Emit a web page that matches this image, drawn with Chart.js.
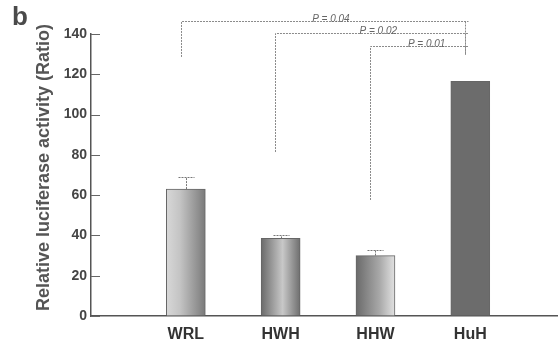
<!DOCTYPE html>
<html>
<head>
<meta charset="utf-8">
<script src="https://cdn.jsdelivr.net/npm/chart.js@4/dist/chart.umd.min.js"></script>
<style>
html,body{margin:0;padding:0;background:#fff;}
canvas{display:block;}
</style>
</head>
<body>
<canvas id="c" width="558" height="343"></canvas>
<script>
const categories = ['WRL', 'HWH', 'HHW', 'HuH'];
const values = [63, 38.5, 30, 116.5];
const errors = [6, 1.5, 3, 0];
const yTicks = [0, 20, 40, 60, 80, 100, 120, 140];
// brackets: left category index, right category index, bar level, left end value, right end value, label
const bracketLeft = [1, 2, 3];
const bracketRight = [4, 4, 4];
const bracketLevel = [146.5, 140.5, 134];
const bracketLeftEnd = [128.6, 81.4, 57.6];
const bracketRightEnd = [129.6, 129.6, 129.6];
const bracketLabels = ['P = 0.04', 'P = 0.02', 'P = 0.01'];
const bracketLabelPos = [2.53, 3.03, 3.54];

const barStops = [
  [[0, '#d8d8d8'], [0.35, '#c4c4c4'], [1, '#7a7a7a']],
  [[0, '#6a6a6a'], [0.55, '#c8c8c8'], [1, '#6e6e6e']],
  [[0, '#6a6a6a'], [0.6, '#a8a8a8'], [1, '#e2e2e2']],
  [[0, '#6c6c6c'], [1, '#6c6c6c']]
];

const FONT = "'Liberation Sans', Arial, sans-serif";

const overlay = {
  id: 'overlay',
  afterDraw(chart) {
    const ctx = chart.ctx;
    const xs = chart.scales.x, ys = chart.scales.y;
    const area = chart.chartArea;
    ctx.save();
    // y tick marks pointing inward
    ctx.strokeStyle = '#666';
    ctx.lineWidth = 1;
    yTicks.forEach(v => {
      const py = Math.round(ys.getPixelForValue(v)) + 0.5;
      ctx.beginPath();
      ctx.moveTo(area.left, py);
      ctx.lineTo(area.left + 9, py);
      ctx.stroke();
    });
    // error bars
    ctx.strokeStyle = '#777';
    ctx.lineWidth = 1;
    ctx.setLineDash([2, 1]);
    values.forEach((v, i) => {
      if (!errors[i]) return;
      const px = Math.round(xs.getPixelForValue(i + 1)) + 0.5;
      const y0 = ys.getPixelForValue(v);
      const y1 = Math.round(ys.getPixelForValue(v + errors[i])) + 0.5;
      ctx.beginPath();
      ctx.moveTo(px, y0);
      ctx.lineTo(px, y1);
      ctx.moveTo(px - 8, y1);
      ctx.lineTo(px + 8, y1);
      ctx.stroke();
    });
    // brackets
    ctx.strokeStyle = '#8a8a8a';
    bracketLeft.forEach((l, i) => {
      const xl = Math.round(xs.getPixelForValue(l - 0.055)) + 0.5;
      const xr = Math.round(xs.getPixelForValue(bracketRight[i] - 0.055)) + 0.5;
      const yl = Math.round(ys.getPixelForValue(bracketLevel[i])) + 0.5;
      ctx.beginPath();
      ctx.moveTo(xl, ys.getPixelForValue(bracketLeftEnd[i]));
      ctx.lineTo(xl, yl);
      ctx.lineTo(xr + 3, yl);
      ctx.moveTo(xr, yl);
      ctx.lineTo(xr, ys.getPixelForValue(bracketRightEnd[i]));
      ctx.stroke();
    });
    ctx.setLineDash([]);
    ctx.fillStyle = '#666';
    ctx.font = "italic 10px " + FONT;
    ctx.textAlign = 'center';
    ctx.textBaseline = 'alphabetic';
    bracketLabels.forEach((t, i) => {
      ctx.fillText(t, xs.getPixelForValue(bracketLabelPos[i]), ys.getPixelForValue(bracketLevel[i]) + 1);
    });
    // panel letter
    ctx.fillStyle = '#4a4a4a';
    ctx.font = "bold 26px " + FONT;
    ctx.textAlign = 'left';
    ctx.textBaseline = 'alphabetic';
    ctx.fillText('b', 12, 25);
    ctx.restore();
  }
};

function barFill(context) {
  const chart = context.chart;
  const i = context.dataIndex;
  const xs = chart.scales.x;
  if (!xs || !chart.chartArea) return '#888';
  const cx = xs.getPixelForValue(i + 1);
  const g = chart.ctx.createLinearGradient(cx - 19.5, 0, cx + 19.5, 0);
  barStops[i].forEach(s => g.addColorStop(s[0], s[1]));
  return g;
}

new Chart(document.getElementById('c'), {
  type: 'bar',
  data: {
    datasets: [{
      data: values.map((v, i) => ({ x: i + 1, y: v })),
      backgroundColor: barFill,
      borderColor: '#666',
      borderWidth: 1,
      barThickness: 39
    }]
  },
  options: {
    responsive: false,
    devicePixelRatio: 1,
    animation: false,
    layout: { padding: { left: 33, top: 34, right: 0, bottom: 0 } },
    plugins: { legend: { display: false }, tooltip: { enabled: false } },
    scales: {
      x: {
        type: 'linear',
        offset: false,
        min: 0,
        max: 4.925,
        afterBuildTicks(scale) { scale.ticks = categories.map((c, i) => ({ value: i + 1 })); },
        afterFit(scale) { scale.height = 27; },
        ticks: {
          padding: 1,
          color: '#333',
          font: { family: FONT, size: 16, weight: 'bold' },
          callback: (v) => categories[v - 1] || ''
        },
        grid: { display: false },
        border: { display: true, color: '#555', width: 1.5 }
      },
      y: {
        min: 0,
        max: 140,
        afterBuildTicks(scale) { scale.ticks = yTicks.map(v => ({ value: v })); },
        afterFit(scale) { scale.width = 58; },
        ticks: {
          padding: 4,
          color: '#444',
          font: { family: FONT, size: 14, weight: 'bold' }
        },
        grid: { display: true, drawOnChartArea: false, drawTicks: false },
        border: { display: true, color: '#555', width: 1.5 },
        title: {
          display: true,
          text: '   Relative luciferase activity (Ratio)',
          color: '#555',
          padding: { top: 0, bottom: 0 },
          font: { family: FONT, size: 18, weight: 'bold' }
        }
      }
    }
  },
  plugins: [overlay]
});
</script>
</body>
</html>
